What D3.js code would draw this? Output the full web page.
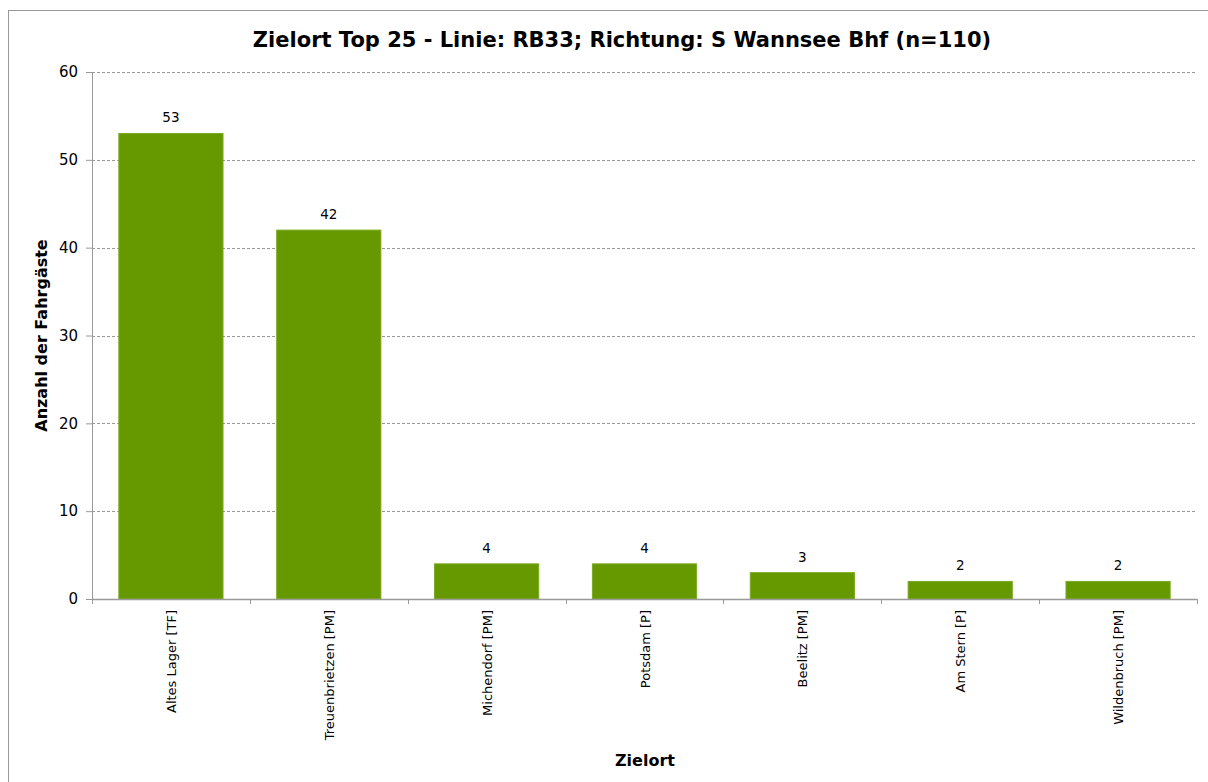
<!DOCTYPE html>
<html>
<head>
<meta charset="utf-8">
<script src="https://cdn.jsdelivr.net/npm/d3@7"></script>
<style>
  body { margin: 0; background: #fff; }
  text { font-family: Tahoma, "DejaVu Sans", sans-serif; fill: #000; }
</style>
</head>
<body>
<div id="chart"></div>
<script>
// Data
const categories = ["Altes Lager [TF]", "Treuenbrietzen [PM]", "Michendorf [PM]", "Potsdam [P]", "Beelitz [PM]", "Am Stern [P]", "Wildenbruch [PM]"];
const counts = [53, 42, 4, 4, 3, 2, 2];
const yTicks = [0, 10, 20, 30, 40, 50, 60];

const W = 1208, H = 782;
const margin = { top: 72, right: 11, bottom: 183, left: 92 };
const width = W - margin.left - margin.right;
const height = H - margin.top - margin.bottom;

const svg = d3.select("#chart").append("svg")
    .attr("width", W)
    .attr("height", H);

// outer frame
svg.append("rect")
    .attr("x", 8.5).attr("y", 10.5)
    .attr("width", W + 10).attr("height", H + 10)
    .attr("fill", "none")
    .attr("stroke", "#999");

const g = svg.append("g")
    .attr("transform", `translate(${margin.left},${margin.top})`);

const x = d3.scaleBand().domain(categories).range([0, width]).paddingInner(0.34).paddingOuter(0.17);
const y = d3.scaleLinear().domain([0, 60]).range([height, 0]);

// Grid lines
g.selectAll(".grid")
    .data(yTicks.filter(d => d > 0))
    .enter().append("line")
    .attr("x1", 0).attr("x2", width)
    .attr("y1", d => Math.round(y(d)) + 0.5).attr("y2", d => Math.round(y(d)) + 0.5)
    .attr("stroke", "#999")
    .attr("stroke-dasharray", "3,2");

// Bars
g.selectAll(".bar")
    .data(counts)
    .enter().append("rect")
    .attr("x", (d, i) => x(categories[i]))
    .attr("y", d => y(d))
    .attr("width", x.bandwidth())
    .attr("height", d => height - y(d))
    .attr("fill", "#669900")
    .attr("stroke", "#7aab22")
    .attr("stroke-width", 1);

// Value labels
g.selectAll(".val")
    .data(counts)
    .enter().append("text")
    .attr("x", (d, i) => x(categories[i]) + x.bandwidth() / 2)
    .attr("y", d => y(d) - 11)
    .attr("text-anchor", "middle")
    .style("font-size", "13.5px")
    .text(d => d);

// Y axis
const yAxis = g.append("g")
    .call(d3.axisLeft(y).tickValues(yTicks).tickSize(6).tickPadding(8));
yAxis.select(".domain").attr("stroke", "#999");
yAxis.selectAll(".tick line").attr("stroke", "#999");
yAxis.selectAll(".tick text").style("font-size", "15px").attr("fill", "#000");

// X axis with ticks at category boundaries
const xAxisG = g.append("g").attr("transform", `translate(0,${height})`);
xAxisG.append("line")
    .attr("x1", 0).attr("x2", width)
    .attr("y1", 0.5).attr("y2", 0.5)
    .attr("stroke", "#999").attr("stroke-width", 1.5);
const step = x.step();
xAxisG.selectAll(".xtick")
    .data(d3.range(categories.length + 1))
    .enter().append("line")
    .attr("x1", i => Math.round(i * step) + 0.5).attr("x2", i => Math.round(i * step) + 0.5)
    .attr("y1", 0).attr("y2", 5)
    .attr("stroke", "#999");
xAxisG.selectAll(".xlab")
    .data(categories)
    .enter().append("text")
    .attr("transform", d => `translate(${x(d) + x.bandwidth() / 2 + 5},11) rotate(-90)`)
    .attr("text-anchor", "end")
    .style("font-size", "13px")
    .text(d => d);

// Titles
svg.append("text")
    .attr("x", 622).attr("y", 47)
    .attr("text-anchor", "middle")
    .style("font-size", "21px")
    .style("font-weight", "bold")
    .text("Zielort Top 25 - Linie: RB33; Richtung: S Wannsee Bhf (n=110)");

svg.append("text")
    .attr("transform", `translate(47,${margin.top + height / 2}) rotate(-90)`)
    .attr("text-anchor", "middle")
    .style("font-size", "16px")
    .style("font-weight", "bold")
    .text("Anzahl der Fahrgäste");

svg.append("text")
    .attr("x", 645).attr("y", 766)
    .attr("text-anchor", "middle")
    .style("font-size", "16px")
    .style("font-weight", "bold")
    .text("Zielort");
</script>
</body>
</html>
